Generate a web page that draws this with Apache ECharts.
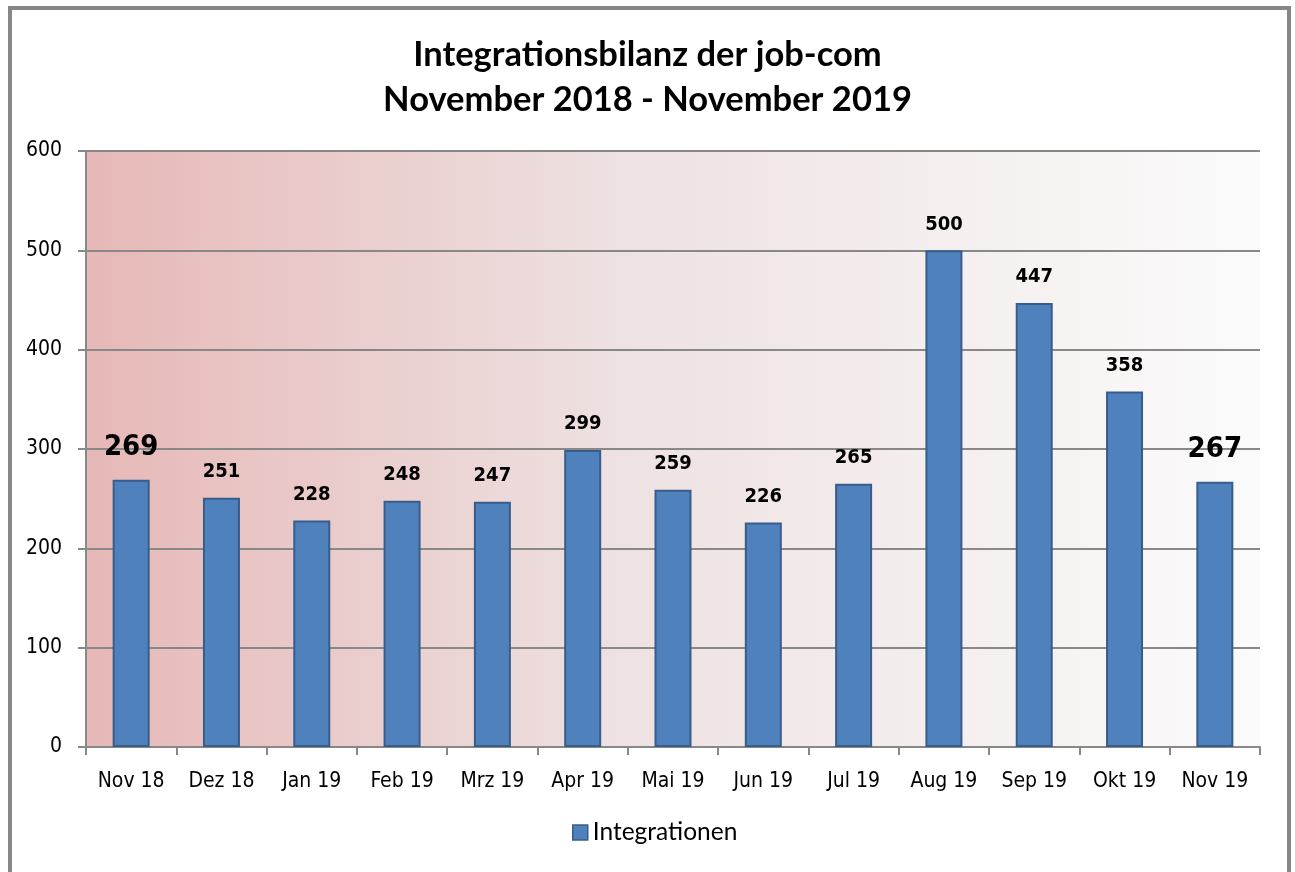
<!DOCTYPE html>
<html>
<head>
<meta charset="utf-8">
<script src="https://cdn.jsdelivr.net/npm/echarts@6/dist/echarts.min.js"></script>
<style>
  html, body { margin: 0; padding: 0; background: #fff; }
  .frame {
    position: absolute; left: 8px; top: 6px; width: 1275px; height: 900px;
    border: 4px solid #878787; box-sizing: content-box;
  }
  #chart { position: absolute; left: 0; top: 0; width: 1295px; height: 872px; }
</style>
</head>
<body>
<div class="frame"></div>
<div id="chart"></div>
<script>
const months = ['Nov 18', 'Dez 18', 'Jan 19', 'Feb 19', 'Mrz 19', 'Apr 19', 'Mai 19', 'Jun 19', 'Jul 19', 'Aug 19', 'Sep 19', 'Okt 19', 'Nov 19']
const integrationen = [269, 251, 228, 248, 247, 299, 259, 226, 265, 500, 447, 358, 267]
const bigLabelIdx = [0, 12]

const narrow = "'DejaVu Sans Condensed', 'Liberation Sans', sans-serif"

const chart = echarts.init(document.getElementById('chart'))

const barData = integrationen.map((v, i) => {
  if (bigLabelIdx.includes(i)) {
    return { value: v, label: { fontSize: 29, distance: 18 } }
  }
  return v
})

chart.setOption({
  animation: false,
  title: {
    text: 'Integrationsbilanz der job-com\nNovember 2018 - November 2019',
    left: 'center',
    top: 27,
    textStyle: {
      fontFamily: 'Lato',
      fontWeight: 'bold',
      fontSize: 34.5,
      lineHeight: 45,
      color: '#000'
    }
  },
  legend: {
    bottom: 22,
    left: 567,
    itemWidth: 15,
    itemHeight: 15,
    itemGap: 6,
    icon: 'rect',
    itemStyle: { borderColor: '#385d8a', borderWidth: 1.5 },
    textStyle: { fontFamily: 'Lato', fontSize: 24.5, color: '#000' },
    data: ['Integrationen']
  },
  grid: {
    left: 86,
    right: 35,
    top: 151,
    bottom: 125,
    show: true,
    borderWidth: 0,
    backgroundColor: new echarts.graphic.LinearGradient(0, 0, 1, 0, [
      { offset: 0, color: '#e6b8b7' },
      { offset: 0.45, color: '#eee1e1' },
      { offset: 1, color: '#fbfbfb' }
    ])
  },
  xAxis: {
    type: 'category',
    data: months,
    axisLine: { lineStyle: { color: '#888', width: 2 } },
    axisTick: { show: true, length: 8, lineStyle: { color: '#888', width: 2 } },
    axisLabel: {
      fontFamily: narrow,
      fontSize: 21,
      color: '#000',
      margin: 24,
      interval: 0
    }
  },
  yAxis: {
    type: 'value',
    min: 0,
    max: 600,
    interval: 100,
    axisLine: { show: true, lineStyle: { color: '#888', width: 2 } },
    axisTick: { show: true, length: 8, lineStyle: { color: '#888', width: 2 } },
    splitLine: { lineStyle: { color: '#888', width: 2 } },
    axisLabel: {
      fontFamily: narrow,
      fontSize: 21,
      color: '#000',
      margin: 24
    }
  },
  series: [
    {
      name: 'Integrationen',
      type: 'bar',
      data: barData,
      barWidth: 37,
      itemStyle: { color: '#4f81bd', borderColor: '#385d8a', borderWidth: 2 },
      label: {
        show: true,
        position: 'top',
        distance: 16,
        fontFamily: narrow,
        fontWeight: 'bold',
        fontSize: 20,
        color: '#000'
      }
    }
  ]
})
</script>
</body>
</html>
